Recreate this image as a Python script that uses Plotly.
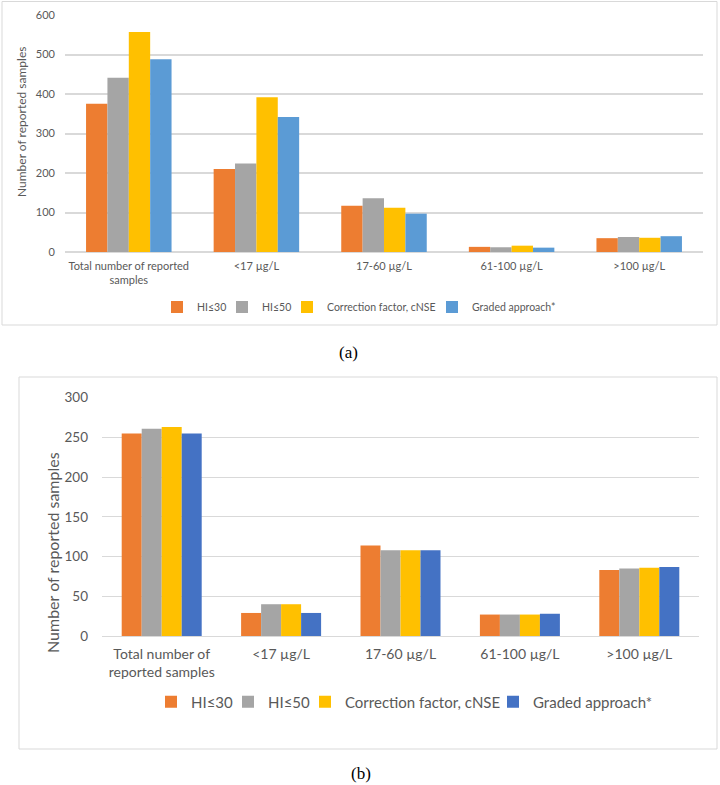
import plotly.graph_objects as go

# ---------------- data ----------------
categories_a = ["Total number of reported<br>samples", "<17 µg/L", "17-60 µg/L", "61-100 µg/L", ">100 µg/L"]
categories_b = ["Total number of<br>reported samples", "<17 µg/L", "17-60 µg/L", "61-100 µg/L", ">100 µg/L"]
series_names = ["HI≤30", "HI≤50", "Correction factor, cNSE", "Graded approach*"]

a_hi30 = [375, 210, 117, 13, 35]
a_hi50 = [441, 224, 136, 12, 38]
a_cnse = [557, 392, 112, 16, 36]
a_graded = [488, 342, 97, 11, 40]

b_hi30 = [255, 29, 114, 27, 83]
b_hi50 = [261, 40, 108, 27, 85]
b_cnse = [263, 40, 108, 27, 86]
b_graded = [255, 29, 108, 28, 87]

yticks_a = [0, 100, 200, 300, 400, 500, 600]
yticks_b = [0, 50, 100, 150, 200, 250, 300]

colors_a = ["#ED7D31", "#A5A5A5", "#FFC000", "#5B9BD5"]
colors_b = ["#ED7D31", "#A5A5A5", "#FFC000", "#4472C4"]

W, H = 720, 785
FONT = "Lato"
TXT = "#595959"
GRID = "#D9D9D9"

legw_a = [20, 20, 100, 84]
legw_b = [32, 32, 143, 117]


def px(x):
    return x / W


def py(y):
    return 1 - y / H


fig = go.Figure()

for name, vals, col, lw in zip(series_names, [a_hi30, a_hi50, a_cnse, a_graded], colors_a, legw_a):
    fig.add_trace(go.Bar(x=categories_a, y=vals, name=name, marker=dict(color=col, line=dict(width=0)),
                         xaxis="x", yaxis="y", legend="legend", legendwidth=lw))

for name, vals, col, lw in zip(series_names, [b_hi30, b_hi50, b_cnse, b_graded], colors_b, legw_b):
    fig.add_trace(go.Bar(x=categories_b, y=vals, name=name, marker=dict(color=col, line=dict(width=0)),
                         xaxis="x2", yaxis="y2", legend="legend2", legendwidth=lw))

fig.update_layout(
    width=W, height=H,
    margin=dict(l=0, r=0, t=0, b=0, autoexpand=False),
    paper_bgcolor="white", plot_bgcolor="white",
    font=dict(family=FONT, color=TXT),
    barmode="group", bargap=0.33, bargroupgap=0,
    xaxis=dict(domain=[px(65), px(703)], anchor="y", tickfont=dict(size=11, color=TXT),
               showgrid=False, showline=False, ticks="", ticklabelstandoff=6, automargin=False),
    yaxis=dict(domain=[py(252), py(15)], anchor="x", range=[0, 600], tickvals=yticks_a,
               tickfont=dict(size=11, color=TXT), gridcolor=GRID, gridwidth=1.5, automargin=False,
               zeroline=True, zerolinecolor=GRID, zerolinewidth=1.5, ticks="", ticklabelstandoff=9),
    xaxis2=dict(domain=[px(102), px(699)], anchor="y2", tickfont=dict(size=14, color=TXT),
                showgrid=False, showline=False, ticks="", ticklabelstandoff=8, automargin=False),
    yaxis2=dict(domain=[py(636), py(397.7)], anchor="x2", range=[0, 300], tickvals=yticks_b,
                tickfont=dict(size=13.5, color=TXT), gridcolor=GRID, gridwidth=1.2, automargin=False,
                zeroline=True, zerolinecolor=GRID, zerolinewidth=1.2, ticks="", ticklabelstandoff=13),
    legend=dict(orientation="h", x=px(157), y=py(307), xanchor="left", yanchor="middle",
                font=dict(size=10.5, color=TXT), bgcolor="rgba(0,0,0,0)"),
    legend2=dict(orientation="h", x=px(151), y=py(702), xanchor="left", yanchor="middle",
                 font=dict(size=15, color=TXT), bgcolor="rgba(0,0,0,0)"),
    showlegend=True,
)

# panel borders
fig.add_shape(type="rect", xref="paper", yref="paper", x0=px(2), x1=px(717), y0=py(325), y1=py(1.5),
              line=dict(color=GRID, width=1), fillcolor="rgba(0,0,0,0)")
fig.add_shape(type="rect", xref="paper", yref="paper", x0=px(19), x1=px(717), y0=py(749), y1=py(377),
              line=dict(color=GRID, width=1), fillcolor="rgba(0,0,0,0)")

# axis titles
fig.add_annotation(text="Number of reported samples", xref="paper", yref="paper", x=px(22), y=py(122),
                   textangle=-90, showarrow=False, font=dict(size=12, color=TXT, family=FONT),
                   xanchor="center", yanchor="middle")
fig.add_annotation(text="Number of reported samples", xref="paper", yref="paper", x=px(52), y=py(552),
                   textangle=-90, showarrow=False, font=dict(size=16, color=TXT, family=FONT),
                   xanchor="center", yanchor="middle")

# panel labels
fig.add_annotation(text="(a)", xref="paper", yref="paper", x=px(348), y=py(352), showarrow=False,
                   font=dict(size=17, color="black", family="Liberation Serif"), xanchor="center", yanchor="middle")
fig.add_annotation(text="(b)", xref="paper", yref="paper", x=px(361), y=py(773), showarrow=False,
                   font=dict(size=17, color="black", family="Liberation Serif"), xanchor="center", yanchor="middle")

fig.write_html("out.html")
